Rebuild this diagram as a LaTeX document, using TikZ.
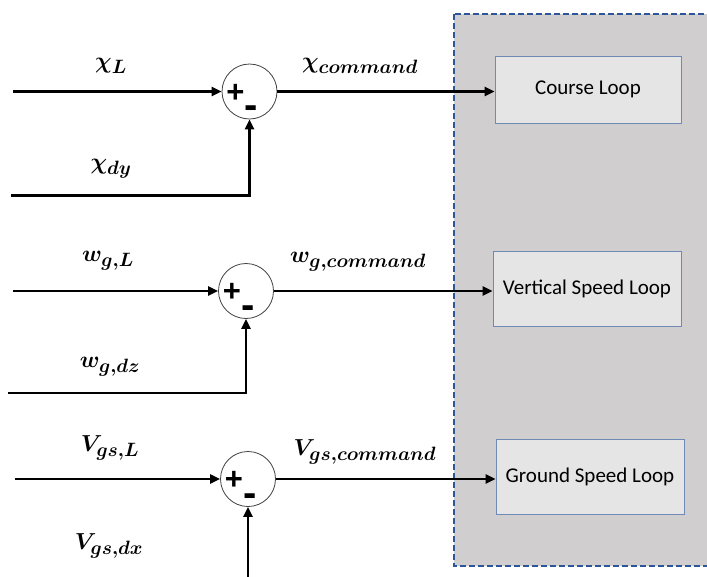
\documentclass[tikz,border=0pt]{standalone}
\usepackage{graphicx}
\usepackage{fontspec}
\usepackage{bm}
\setmainfont{Carlito}
\newfontfamily\signfont{Liberation Sans}
\usetikzlibrary{arrows.meta}
\definecolor{grayfill}{HTML}{D0CECE}
\definecolor{boxfill}{HTML}{E5E5E5}
\definecolor{boxblue}{HTML}{6F8AB7}
\definecolor{dashblue}{HTML}{2E5597}
\definecolor{ringgray}{HTML}{404040}
\newcommand{\lblmath}[1]{\scalebox{0.93}{$\bm{#1}$}}
\begin{document}
\begin{tikzpicture}[x=1pt,y=-1pt,
  sig/.style={line width=2.5pt,-{Triangle[length=10pt,width=9pt]}},
  sumc/.style={circle,draw=ringgray,line width=0.8pt,minimum size=55pt,inner sep=0pt},
  loopbox/.style={draw=boxblue,fill=boxfill,line width=0.8pt,inner sep=0pt,
    font=\fontsize{21}{25}\selectfont},
  lbl/.style={font=\fontsize{28.5}{32}\selectfont,inner sep=0pt},
  plussign/.style={font=\signfont\bfseries\fontsize{31}{31}\selectfont,inner sep=0pt},
  minussign/.style={font=\signfont\bfseries\fontsize{40}{40}\selectfont,inner sep=0pt}
]
\clip (0,0) rectangle (707,576);
% shaded region
\draw[dash pattern=on 6pt off 3pt,line width=1.6pt,draw=dashblue,fill=grayfill]
  (454,14) rectangle (720,566);

% loop boxes
\node[loopbox,minimum width=186pt,minimum height=67pt] (b1) at (588,89.5) {Course Loop};
\node[loopbox,minimum width=188pt,minimum height=75pt] (b2) at (587,288.5) {Vertical Speed Loop};
\node[loopbox,minimum width=188pt,minimum height=75pt] (b3) at (590,476.5) {Ground Speed Loop};

% summing junctions
\node[sumc] (s1) at (249.5,91.5) {};
\node[sumc] (s2) at (246,291) {};
\node[sumc] (s3) at (248,479) {};
\foreach \s in {s1,s2,s3}{
  \node[plussign] (\s p) at ([shift={(-14,1.5)}]\s.center) {+};
  \node[minussign] (\s m) at ([shift={(2,21)}]\s.center) {-};
}

% input coordinates
\coordinate (i1) at (13,91.5);
\coordinate (d1) at (11,195.5);
\coordinate (i2) at (13,291);
\coordinate (d2) at (8,393);
\coordinate (i3) at (15,479);
\coordinate (d3) at (248,590);

% connectors
\draw[sig] (i1) -- (s1.west);
\draw[sig] (d1) -| (s1.south);
\draw[sig] (s1.east) -- (s1.east -| b1.west);
\draw[sig] (i2) -- (s2.west);
\draw[sig] (d2) -| (s2.south);
\draw[sig] (s2.east) -- (s2.east -| b2.west);
\draw[sig] (i3) -- (s3.west);
\draw[sig] (d3) -- (s3.south);
\draw[sig] (s3.east) -- (s3.east -| b3.west);

% labels
\node[lbl] (l1) at (111,66) {\lblmath{\chi_{L}}};
\node[lbl] (l2) at (111,169) {\lblmath{\chi_{dy}}};
\node[lbl] (l3) at (360,66) {\lblmath{\chi_{command}}};
\node[lbl] (l4) at (108,261) {\lblmath{w_{g,L}}};
\node[lbl] (l5) at (110,367) {\lblmath{w_{g,dz}}};
\node[lbl] (l6) at (358,262) {\lblmath{w_{g,command}}};
\node[lbl] (l7) at (110,448) {\lblmath{V_{gs,L}}};
\node[lbl] (l8) at (109,546) {\lblmath{V_{gs,dx}}};
\node[lbl] (l9) at (365,452) {\lblmath{V_{gs,command}}};
\end{tikzpicture}
\end{document}
